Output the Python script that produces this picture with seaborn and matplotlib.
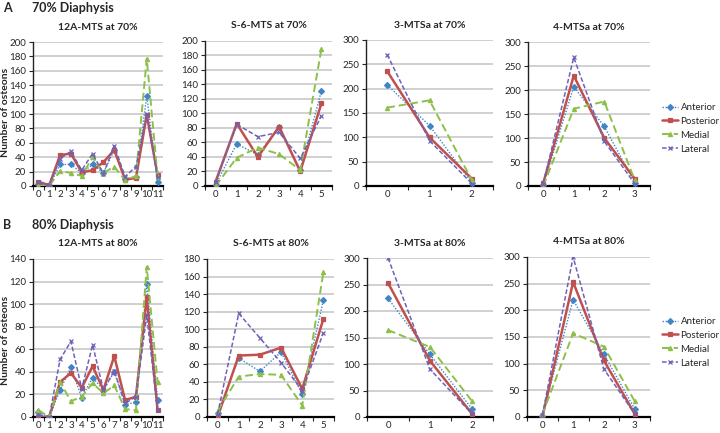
import numpy as np
import pandas as pd
import matplotlib
matplotlib.use('Agg')
import matplotlib.pyplot as plt
import seaborn as sns

regions = ['Anterior', 'Posterior', 'Medial', 'Lateral']

# 70% diaphysis
a_12a = {
    'Anterior':  [3, 0, 30, 30, 18, 30, 18, 50, 10, 12, 125, 5],
    'Posterior': [6, 1, 43, 45, 19, 22, 33, 50, 9, 11, 99, 15],
    'Medial':    [0, 0, 21, 18, 14, 40, 18, 27, 8, 14, 177, 13],
    'Lateral':   [5, 1, 38, 48, 22, 45, 17, 56, 13, 27, 100, 12],
}
a_s6 = {
    'Anterior':  [2, 58, 43, 82, 22, 131],
    'Posterior': [6, 86, 40, 82, 20, 114],
    'Medial':    [0, 39, 53, 44, 22, 189],
    'Lateral':   [5, 85, 68, 74, 38, 97],
}
a_3 = {
    'Anterior':  [208, 124, 7],
    'Posterior': [236, 100, 15],
    'Medial':    [161, 176, 12],
    'Lateral':   [270, 93, 5],
}
a_4 = {
    'Anterior':  [2, 207, 124, 7],
    'Posterior': [6, 230, 100, 15],
    'Medial':    [0, 161, 176, 12],
    'Lateral':   [5, 268, 93, 5],
}

# 80% diaphysis
b_12a = {
    'Anterior':  [4, 0, 24, 44, 17, 35, 24, 40, 11, 13, 118, 15],
    'Posterior': [0, 0, 31, 39, 26, 45, 24, 54, 15, 18, 106, 6],
    'Medial':    [6, 0, 31, 14, 18, 30, 21, 28, 7, 6, 133, 31],
    'Lateral':   [2, 0, 51, 67, 25, 64, 24, 41, 12, 18, 90, 6],
}
b_s6 = {
    'Anterior':  [5, 67, 52, 74, 26, 133],
    'Posterior': [0, 70, 71, 79, 32, 112],
    'Medial':    [7, 46, 49, 48, 13, 165],
    'Lateral':   [3, 118, 90, 62, 30, 96],
}
b_3 = {
    'Anterior':  [224, 118, 15],
    'Posterior': [253, 106, 6],
    'Medial':    [164, 132, 30],
    'Lateral':   [300, 90, 6],
}
b_4 = {
    'Anterior':  [2, 220, 118, 15],
    'Posterior': [0, 253, 106, 6],
    'Medial':    [5, 157, 132, 30],
    'Lateral':   [3, 300, 90, 6],
}

palette = {'Anterior': '#3F86C8', 'Posterior': '#C0504D',
           'Medial': '#8DC04A', 'Lateral': '#6D62B8'}
markers = {'Anterior': 'D', 'Posterior': 's', 'Medial': '^', 'Lateral': 'x'}
dashes = {'Anterior': (1, 1.2), 'Posterior': '', 'Medial': (4, 2), 'Lateral': (3, 1.5)}
widths = {'Anterior': 1.0, 'Posterior': 1.8, 'Medial': 1.4, 'Lateral': 1.1}

sns.set_style('white')
plt.rcParams['font.family'] = ['Lato', 'DejaVu Sans']

W, H = 720, 433
fig = plt.figure(figsize=(7.2, 4.33), dpi=100)


def add_ax(l, r, t, b):
    return fig.add_axes([l / W, 1 - b / H, (r - l) / W, (b - t) / H])


def panel(ax, data, title, ymax, ystep):
    n = len(data['Anterior'])
    rows = []
    for reg in regions:
        for i, v in enumerate(data[reg]):
            rows.append({'pos': i, 'count': v, 'region': reg})
    df = pd.DataFrame(rows)
    sns.lineplot(data=df, x='pos', y='count', hue='region', style='region',
                 size='region', sizes=widths, palette=palette, markers=False,
                 dashes=dashes, hue_order=regions, style_order=regions,
                 size_order=regions, legend=False, ax=ax)
    for line, reg in zip(ax.get_lines(), regions):
        line.set_marker(markers[reg])
        line.set_markersize(3 if reg != 'Lateral' else 3.5)
        line.set_markerfacecolor(palette[reg])
        line.set_markeredgecolor(palette[reg])
        line.set_markeredgewidth(0.9)
        line.set_zorder(3)
    ax.set_xlim(-0.5, n - 0.5)
    ax.set_ylim(0, ymax)
    ax.set_xticks(range(n))
    ax.set_xticks(np.arange(-0.5, n, 1.0), minor=True)
    ax.set_yticks(np.arange(0, ymax + 1, ystep))
    ax.grid(axis='y', color='#C8C8C8', linewidth=1.2)
    ax.set_axisbelow(True)
    for s in ['top', 'right']:
        ax.spines[s].set_visible(False)
    ax.spines['left'].set_color('#222222')
    ax.spines['left'].set_linewidth(1.0)
    ax.spines['bottom'].set_color('black')
    ax.spines['bottom'].set_linewidth(1.6)
    ax.tick_params(axis='y', which='major', length=3, width=0.8, labelsize=7, pad=2, left=True)
    ax.tick_params(axis='x', which='major', length=0, labelsize=7, pad=3)
    ax.tick_params(axis='x', which='minor', length=3, width=0.8, bottom=True)
    ax.set_xlabel('')
    ax.set_ylabel('')
    ax.set_title(title, fontsize=7.5, fontweight='bold', pad=9)


row_a = [(33, 163, 42, 186), (205, 332, 41, 186), (366, 493, 40, 186), (528, 650, 42, 186)]
row_b = [(33, 163, 259, 417), (207, 334, 259, 417), (367, 493, 258, 417), (527, 650, 257, 417)]

axA = [add_ax(*p) for p in row_a]
axB = [add_ax(*p) for p in row_b]

panel(axA[0], a_12a, '12A-MTS at 70%', 200, 20)
panel(axA[1], a_s6, 'S-6-MTS at 70%', 200, 20)
panel(axA[2], a_3, '3-MTSa at 70%', 300, 50)
panel(axA[3], a_4, '4-MTSa at 70%', 300, 50)

panel(axB[0], b_12a, '12A-MTS at 80%', 140, 20)
panel(axB[1], b_s6, 'S-6-MTS at 80%', 180, 20)
panel(axB[2], b_3, '3-MTSa at 80%', 300, 50)
panel(axB[3], b_4, '4-MTSa at 80%', 300, 50)

fig.text(6 / W, 1 - 112 / H, 'Number of osteons', fontsize=7.5, fontweight='bold',
         rotation=90, ha='center', va='center')
fig.text(6 / W, 1 - 340 / H, 'Number of osteons', fontsize=7.5, fontweight='bold',
         rotation=90, ha='center', va='center')

fig.text(3 / W, 1 - 8 / H, 'A', fontsize=9, fontweight='bold', va='center')
fig.text(32 / W, 1 - 8 / H, '70% Diaphysis', fontsize=9, fontweight='bold', va='center')
fig.text(3 / W, 1 - 225 / H, 'B', fontsize=9, fontweight='bold', va='center')
fig.text(32 / W, 1 - 225 / H, '80% Diaphysis', fontsize=9, fontweight='bold', va='center')

for ax, top in [(axA[3], 103), (axB[3], 317)]:
    fig.legend(ax.get_lines()[:4], regions, loc='upper left',
               bbox_to_anchor=(662 / W, 1 - top / H), frameon=False,
               fontsize=7, handlelength=1.6, handletextpad=0.3,
               labelspacing=0.5, borderaxespad=0, borderpad=0)

fig.savefig('out.png', dpi=100)
